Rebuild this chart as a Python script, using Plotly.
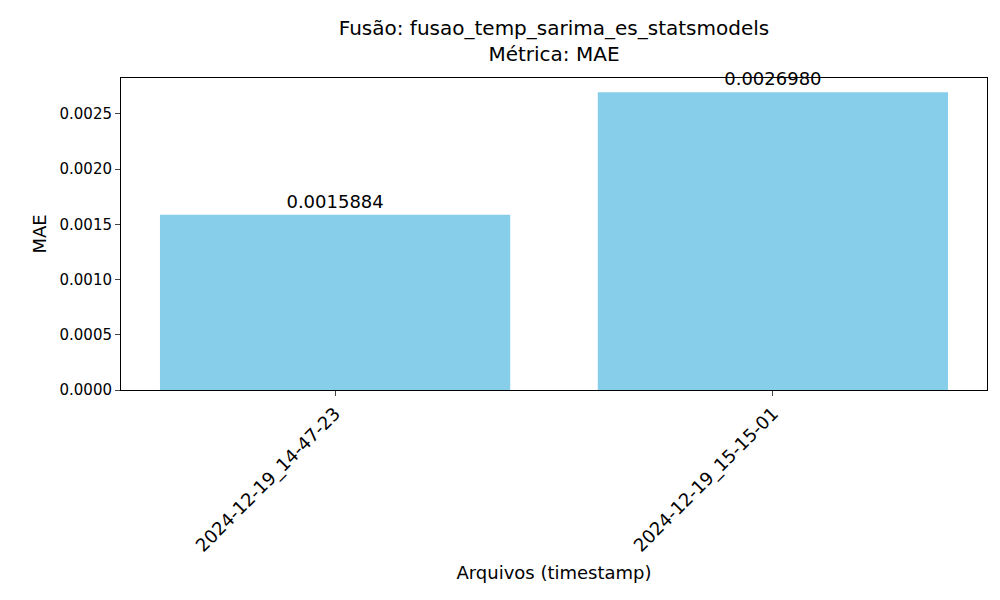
import plotly.graph_objects as go

# dados
arquivos = ["2024-12-19_14-47-23", "2024-12-19_15-15-01"]
mae = [0.0015884, 0.0026980]
posicoes = [0, 1]

fig = go.Figure(
    data=[go.Bar(
        x=posicoes, y=mae, width=0.8,
        marker=dict(color="#87ceeb", line=dict(width=0)),
        text=["%.7f" % v for v in mae], textposition="outside",
        textfont=dict(size=18, color="black"), cliponaxis=False,
    )]
)

fig.update_layout(
    width=1000, height=600,
    margin=dict(l=113, r=21, t=70, b=218, autoexpand=False),
    plot_bgcolor="white", paper_bgcolor="white",
    font=dict(family="DejaVu Sans", color="black"),
    showlegend=False,
    title=dict(text="Fusão: fusao_temp_sarima_es_statsmodels<br>Métrica: MAE",
               x=0.546, xanchor="center", y=0.955, yanchor="top",
               font=dict(size=20)),
)
fig.update_xaxes(
    range=[-0.489, 1.489], tickmode="array", tickvals=posicoes, ticktext=arquivos,
    tickangle=-45, tickfont=dict(size=18), ticks="outside", ticklen=5,
    showline=True, linecolor="black", mirror=True, showgrid=False, automargin=False,
    title=dict(text="Arquivos (timestamp)", font=dict(size=18), standoff=10),
)
fig.update_yaxes(
    range=[0, 0.002826], tickformat=".4f", dtick=0.0005, tickfont=dict(size=15),
    ticks="outside", ticklen=5, showline=True, linecolor="black", mirror=True,
    showgrid=False, zeroline=False, automargin=False,
    title=dict(text="MAE", font=dict(size=18), standoff=8),
)

fig.write_html("out.html")
